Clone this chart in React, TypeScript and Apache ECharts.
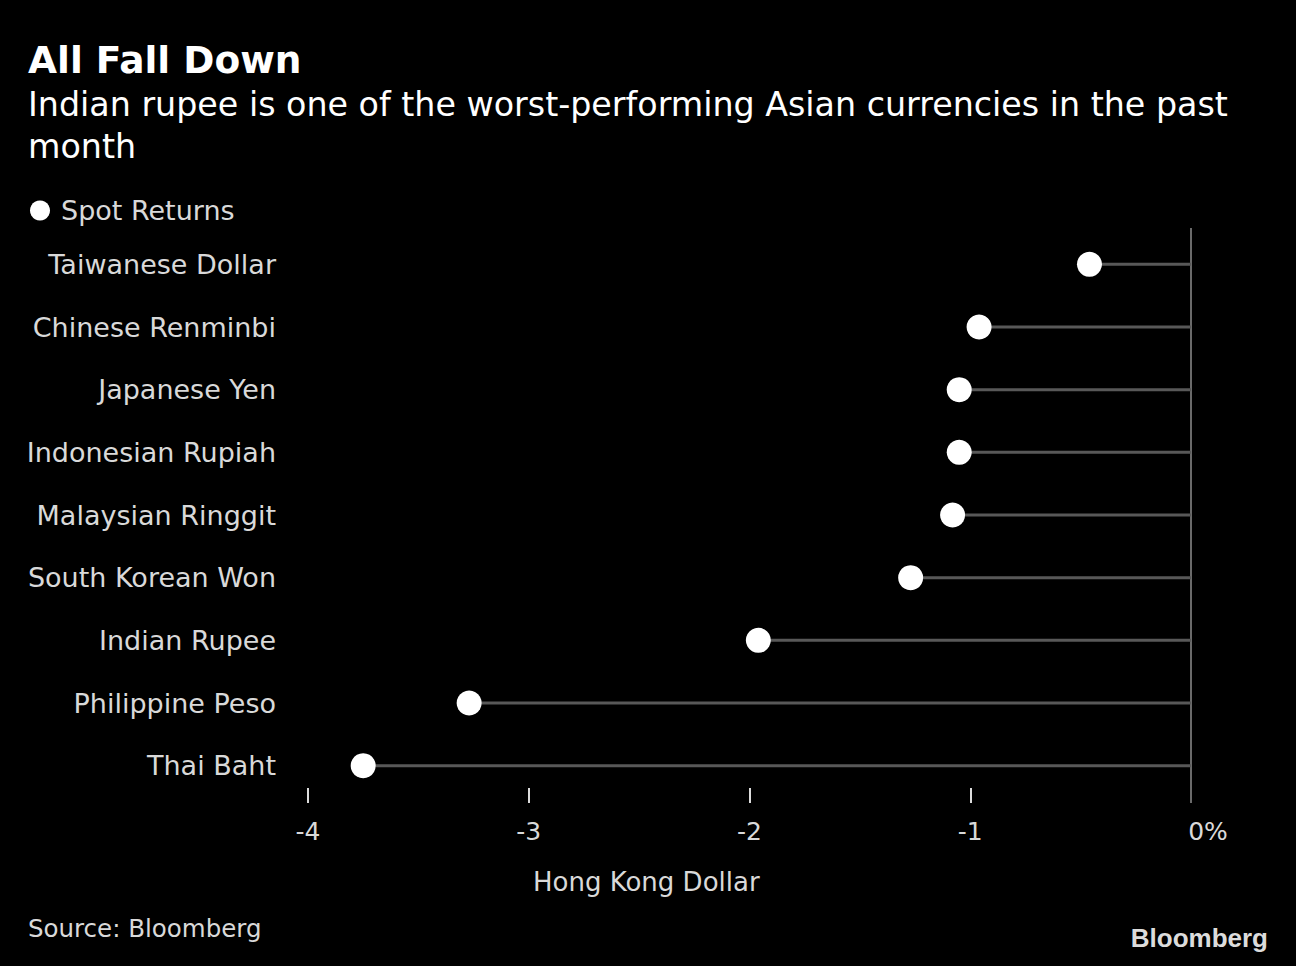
import React, { useEffect, useRef } from "react";
import * as echarts from "echarts";

const categories = [
  "Taiwanese Dollar",
  "Chinese Renminbi",
  "Japanese Yen",
  "Indonesian Rupiah",
  "Malaysian Ringgit",
  "South Korean Won",
  "Indian Rupee",
  "Philippine Peso",
  "Thai Baht",
];
const spotReturns = [-0.46, -0.96, -1.05, -1.05, -1.08, -1.27, -1.96, -3.27, -3.75];
const xTicks = { min: -4, max: 0, interval: 1 };

const FONT = "DejaVu Sans";

export default function App() {
  const ref = useRef<HTMLDivElement>(null);
  useEffect(() => {
    const chart = echarts.init(ref.current!, null, { renderer: "svg" });
    const option: any = {
      animation: false,
      backgroundColor: "#000",
      textStyle: { fontFamily: FONT },
      legend: {
        data: [{ name: "Spot Returns", icon: "circle", itemStyle: { color: "#ffffff", opacity: 1 } }],
        left: 25,
        top: 192,
        itemWidth: 32,
        itemHeight: 20,
        textStyle: { color: "#d9d9d9", fontSize: 27, fontFamily: FONT },
        selectedMode: false,
      },
      grid: { left: 308, right: 105, top: 233, bottom: 169 },
      xAxis: {
        type: "value",
        min: xTicks.min,
        max: xTicks.max,
        interval: xTicks.interval,
        offset: 6,
        axisLine: { show: false },
        axisTick: { show: true, inside: true, length: 15, lineStyle: { color: "#dcdcdc", width: 2 } },
        splitLine: { show: false },
        axisLabel: {
          color: "#d9d9d9",
          fontSize: 25,
          fontFamily: FONT,
          margin: 16,
          formatter: (v: number) => (v === 0 ? "{z|0%}" : String(v)),
          rich: { z: { padding: [0, 0, 0, 34], fontSize: 25, color: "#d9d9d9", fontFamily: FONT } },
        },
      },
      yAxis: {
        type: "category",
        inverse: true,
        data: categories,
        axisLine: { show: false },
        axisTick: { show: false },
        axisLabel: { color: "#d9d9d9", fontSize: 27, fontFamily: FONT, margin: 32 },
      },
      series: [
        {
          name: "stem",
          type: "bar",
          data: spotReturns,
          barWidth: 3,
          itemStyle: { color: "#585858" },
          silent: true,
        },
        {
          name: "Spot Returns",
          type: "scatter",
          data: spotReturns,
          symbol: "circle",
          symbolSize: 25,
          itemStyle: { color: "#ffffff", opacity: 1 },
          z: 5,
        },
      ],
      graphic: [
        {
          type: "text",
          left: 28,
          top: 41,
          style: { text: "All Fall Down", fill: "#ffffff", font: `bold 37.5px ${FONT}` },
        },
        {
          type: "text",
          left: 28,
          top: 83,
          style: {
            text: "Indian rupee is one of the worst-performing Asian currencies in the past\nmonth",
            fill: "#ffffff",
            font: `33.3px ${FONT}`,
            lineHeight: 42,
          },
        },
        {
          type: "text",
          left: 533,
          top: 869,
          style: { text: "Hong Kong Dollar", fill: "#d9d9d9", font: `26px ${FONT}` },
        },
        {
          type: "text",
          left: 28,
          top: 916,
          style: { text: "Source: Bloomberg", fill: "#d9d9d9", font: `24.5px ${FONT}` },
        },
        {
          type: "text",
          right: 28,
          top: 925,
          style: { text: "Bloomberg", fill: "#dcdcdc", font: `bold 26px "Liberation Sans"` },
        },
      ],
    };
    chart.setOption(option);
    const x0 = chart.convertToPixel({ xAxisIndex: 0 }, 0) as number;
    chart.setOption({
      graphic: [
        ...option.graphic,
        {
          type: "line",
          shape: { x1: x0, y1: 228, x2: x0, y2: 803 },
          style: { stroke: "#6a6a6a", lineWidth: 2 },
          z: 1,
        },
      ],
    });
    return () => chart.dispose();
  }, []);
  return (
    <div
      ref={ref}
      style={{ position: "fixed", left: 0, top: 0, width: 1296, height: 966, background: "#000" }}
    />
  );
}
